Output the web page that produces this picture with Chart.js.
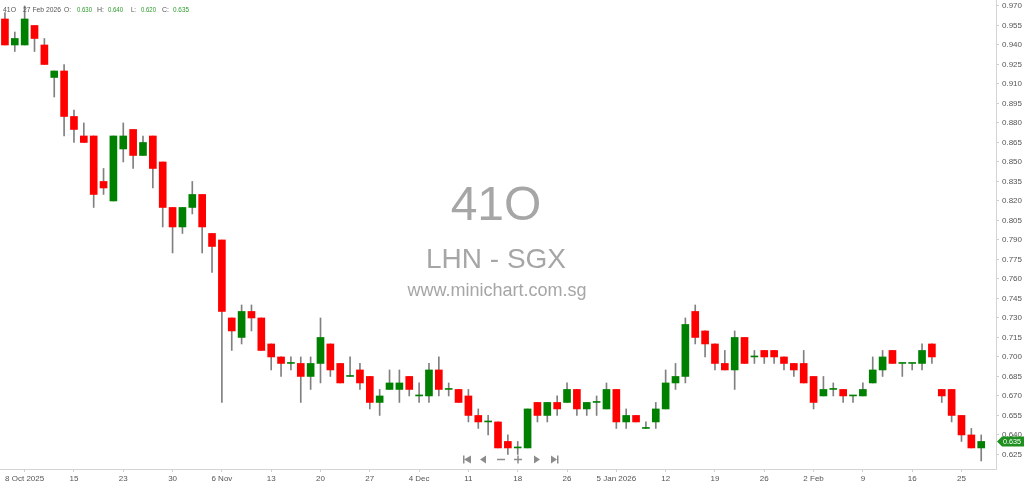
<!DOCTYPE html>
<html>
<head>
<meta charset="utf-8">
<script src="https://cdn.jsdelivr.net/npm/chart.js@4.4.1/dist/chart.umd.min.js"></script>
<style>
  html, body { margin: 0; padding: 0; background: #fff; }
</style>
</head>
<body>
<canvas id="grafico" width="1024" height="484"></canvas>
<script>
// trading days (SGX) and daily OHLC for 41O
const dates = [
    '2025-10-06','2025-10-07','2025-10-08','2025-10-09','2025-10-10','2025-10-13','2025-10-14','2025-10-15','2025-10-16','2025-10-17',
    '2025-10-21','2025-10-22','2025-10-23','2025-10-24','2025-10-27','2025-10-28','2025-10-29','2025-10-30','2025-10-31','2025-11-03',
    '2025-11-04','2025-11-05','2025-11-06','2025-11-07','2025-11-10','2025-11-11','2025-11-12','2025-11-13','2025-11-14','2025-11-17',
    '2025-11-18','2025-11-19','2025-11-20','2025-11-21','2025-11-24','2025-11-25','2025-11-26','2025-11-27','2025-11-28','2025-12-01',
    '2025-12-02','2025-12-03','2025-12-04','2025-12-05','2025-12-08','2025-12-09','2025-12-10','2025-12-11','2025-12-12','2025-12-15',
    '2025-12-16','2025-12-17','2025-12-18','2025-12-19','2025-12-22','2025-12-23','2025-12-24','2025-12-26','2025-12-29','2025-12-30',
    '2025-12-31','2026-01-02','2026-01-05','2026-01-06','2026-01-07','2026-01-08','2026-01-09','2026-01-12','2026-01-13','2026-01-14',
    '2026-01-15','2026-01-16','2026-01-19','2026-01-20','2026-01-21','2026-01-22','2026-01-23','2026-01-26','2026-01-27','2026-01-28',
    '2026-01-29','2026-01-30','2026-02-02','2026-02-03','2026-02-04','2026-02-05','2026-02-06','2026-02-09','2026-02-10','2026-02-11',
    '2026-02-12','2026-02-13','2026-02-16','2026-02-19','2026-02-20','2026-02-23','2026-02-24','2026-02-25','2026-02-26','2026-02-27'
];
const opens = [
    0.960, 0.940, 0.940, 0.955, 0.940, 0.915, 0.920, 0.885, 0.870, 0.870,
    0.835, 0.820, 0.860, 0.875, 0.855, 0.870, 0.850, 0.815, 0.800, 0.815,
    0.825, 0.795, 0.790, 0.730, 0.715, 0.735, 0.730, 0.710, 0.700, 0.695,
    0.695, 0.685, 0.695, 0.710, 0.695, 0.685, 0.690, 0.685, 0.665, 0.675,
    0.675, 0.685, 0.670, 0.670, 0.690, 0.675, 0.675, 0.670, 0.655, 0.650,
    0.650, 0.635, 0.630, 0.630, 0.665, 0.655, 0.665, 0.665, 0.675, 0.660,
    0.665, 0.660, 0.675, 0.650, 0.655, 0.645, 0.650, 0.660, 0.680, 0.685,
    0.735, 0.720, 0.710, 0.695, 0.690, 0.715, 0.700, 0.705, 0.705, 0.700,
    0.695, 0.695, 0.685, 0.670, 0.675, 0.675, 0.670, 0.670, 0.680, 0.690,
    0.705, 0.695, 0.695, 0.695, 0.710, 0.675, 0.675, 0.655, 0.640, 0.630
];
const highs = [
    0.965, 0.950, 0.970, 0.955, 0.945, 0.920, 0.925, 0.890, 0.880, 0.870,
    0.845, 0.870, 0.880, 0.875, 0.870, 0.870, 0.850, 0.815, 0.815, 0.835,
    0.825, 0.795, 0.790, 0.730, 0.740, 0.740, 0.730, 0.710, 0.700, 0.700,
    0.700, 0.700, 0.730, 0.710, 0.695, 0.700, 0.695, 0.685, 0.675, 0.690,
    0.690, 0.685, 0.680, 0.695, 0.700, 0.680, 0.675, 0.675, 0.660, 0.655,
    0.650, 0.640, 0.635, 0.660, 0.665, 0.665, 0.670, 0.680, 0.675, 0.665,
    0.670, 0.680, 0.675, 0.660, 0.655, 0.650, 0.665, 0.690, 0.695, 0.730,
    0.740, 0.720, 0.710, 0.705, 0.720, 0.715, 0.705, 0.705, 0.705, 0.700,
    0.695, 0.705, 0.685, 0.685, 0.680, 0.675, 0.670, 0.680, 0.700, 0.705,
    0.705, 0.695, 0.695, 0.710, 0.710, 0.675, 0.675, 0.655, 0.645, 0.640
];
const lows = [
    0.940, 0.935, 0.940, 0.935, 0.925, 0.900, 0.870, 0.865, 0.865, 0.815,
    0.825, 0.820, 0.850, 0.845, 0.855, 0.830, 0.800, 0.780, 0.795, 0.810,
    0.780, 0.765, 0.665, 0.705, 0.710, 0.720, 0.705, 0.690, 0.685, 0.690,
    0.665, 0.675, 0.680, 0.685, 0.680, 0.685, 0.675, 0.660, 0.655, 0.675,
    0.665, 0.670, 0.665, 0.665, 0.670, 0.670, 0.665, 0.650, 0.645, 0.640,
    0.630, 0.625, 0.625, 0.630, 0.650, 0.650, 0.655, 0.665, 0.655, 0.655,
    0.655, 0.660, 0.645, 0.645, 0.650, 0.645, 0.645, 0.660, 0.675, 0.680,
    0.710, 0.700, 0.690, 0.690, 0.675, 0.695, 0.695, 0.695, 0.695, 0.690,
    0.685, 0.680, 0.660, 0.670, 0.670, 0.665, 0.665, 0.670, 0.680, 0.685,
    0.695, 0.685, 0.690, 0.690, 0.695, 0.665, 0.650, 0.635, 0.630, 0.620
];
const closes = [
    0.940, 0.945, 0.960, 0.945, 0.925, 0.920, 0.885, 0.875, 0.865, 0.825,
    0.830, 0.870, 0.870, 0.855, 0.865, 0.845, 0.815, 0.800, 0.815, 0.825,
    0.800, 0.785, 0.735, 0.720, 0.735, 0.730, 0.705, 0.700, 0.695, 0.695,
    0.685, 0.695, 0.715, 0.690, 0.680, 0.685, 0.680, 0.665, 0.670, 0.680,
    0.680, 0.675, 0.670, 0.690, 0.675, 0.675, 0.665, 0.655, 0.650, 0.650,
    0.630, 0.630, 0.630, 0.660, 0.655, 0.665, 0.660, 0.675, 0.660, 0.665,
    0.665, 0.675, 0.650, 0.655, 0.650, 0.645, 0.660, 0.680, 0.685, 0.725,
    0.715, 0.710, 0.695, 0.690, 0.715, 0.695, 0.700, 0.700, 0.700, 0.695,
    0.690, 0.680, 0.665, 0.675, 0.675, 0.670, 0.670, 0.675, 0.690, 0.700,
    0.695, 0.695, 0.695, 0.705, 0.700, 0.670, 0.655, 0.640, 0.630, 0.635
];

// x axis labels, only on these days
const tickDates = ['2025-10-08','2025-10-15','2025-10-23','2025-10-30','2025-11-06','2025-11-13','2025-11-20','2025-11-27','2025-12-04','2025-12-11',
    '2025-12-18','2025-12-26','2026-01-05','2026-01-12','2026-01-19','2026-01-26','2026-02-02','2026-02-09','2026-02-16','2026-02-25'];
const tickTexts = ['8 Oct 2025','15','23','30','6 Nov','13','20','27','4 Dec','11',
    '18','26','5 Jan 2026','12','19','26','2 Feb','9','16','25'];
const yTicks = [0.625, 0.640, 0.655, 0.670, 0.685, 0.700, 0.715, 0.730, 0.745, 0.760, 0.775, 0.790,
    0.805, 0.820, 0.835, 0.850, 0.865, 0.880, 0.895, 0.910, 0.925, 0.940, 0.955, 0.970];

const VERDE = '#008000';
const VERMELHO = '#ff0000';
const FONTE = "'Liberation Sans', Arial, sans-serif";

// marca d'agua no meio
const marcaDagua = {
    id: 'marcaDagua',
    beforeDatasetsDraw(chart) {
        const ctx = chart.ctx;
        ctx.save();
        ctx.fillStyle = '#a6a6a6';
        ctx.textAlign = 'center';
        ctx.textBaseline = 'alphabetic';
        ctx.font = '48px ' + FONTE;
        ctx.fillText('41O', 496, 220);
        ctx.font = '28px ' + FONTE;
        ctx.fillText('LHN - SGX', 496, 268);
        ctx.font = '18px ' + FONTE;
        ctx.fillText('www.minichart.com.sg', 497, 296);
        ctx.restore();
    }
};

// cabecalho, etiqueta do preco e botoes de navegacao
const extras = {
    id: 'extras',
    afterDraw(chart) {
        const ctx = chart.ctx;
        const n = closes.length - 1;
        ctx.save();
        ctx.font = '8px ' + FONTE;
        ctx.textBaseline = 'middle';
        // [texto, x, largura, cor]
        const partes = [
            ['41O', 3, 13, '#555'], ['27 Feb 2026', 23, 38, '#555'],
            ['O:', 64, 7, '#555'], [opens[n].toFixed(3), 77, 15, '#2a9a2a'],
            ['H:', 97, 7, '#555'], [highs[n].toFixed(3), 108, 15, '#2a9a2a'],
            ['L:', 131, 5, '#555'], [lows[n].toFixed(3), 141, 15, '#2a9a2a'],
            ['C:', 162, 7, '#555'], [closes[n].toFixed(3), 173, 16, '#2a9a2a']
        ];
        partes.forEach(p => { ctx.fillStyle = p[3]; ctx.fillText(p[0], p[1], 10, p[2]); });

        // etiqueta verde do ultimo preco
        const yp = chart.scales.y.getPixelForValue(closes[n]);
        const x0 = chart.chartArea.right + 1;
        ctx.fillStyle = '#1f8f1f';
        ctx.beginPath();
        ctx.moveTo(x0, yp);
        ctx.lineTo(x0 + 5, yp - 5);
        ctx.lineTo(1024, yp - 5);
        ctx.lineTo(1024, yp + 5);
        ctx.lineTo(x0 + 5, yp + 5);
        ctx.closePath();
        ctx.fill();
        ctx.fillStyle = '#fff';
        ctx.fillText(closes[n].toFixed(3), x0 + 6, yp + 0.5, 18);

        // botoes
        const yb = 459.5;
        ctx.fillStyle = '#8c8c8c';
        const tri = (a, b, c) => { ctx.beginPath(); ctx.moveTo(a[0], a[1]); ctx.lineTo(b[0], b[1]); ctx.lineTo(c[0], c[1]); ctx.closePath(); ctx.fill(); };
        ctx.fillRect(463, yb - 4, 1.5, 8);
        tri([464, yb], [471, yb - 4], [471, yb + 4]);
        tri([480, yb], [486, yb - 4], [486, yb + 4]);
        ctx.fillRect(497, yb - 0.75, 8, 1.5);
        ctx.fillRect(514, yb - 0.75, 8, 1.5);
        ctx.fillRect(517.25, yb - 4, 1.5, 8);
        tri([534, yb - 4], [534, yb + 4], [540, yb]);
        tri([551, yb - 4], [551, yb + 4], [557, yb]);
        ctx.fillRect(557, yb - 4, 1.5, 8);
        ctx.restore();
    }
};

document.addEventListener('DOMContentLoaded', function() {
    const ctx = document.getElementById('grafico').getContext('2d');
    const labels = dates.concat(['']); // espaco vazio a direita

    new Chart(ctx, {
        type: 'bar',
        data: {
            labels: labels,
            datasets: [
                {
                    label: 'Corpo',
                    data: dates.map((d, i) => [opens[i], closes[i]]),
                    backgroundColor: dates.map((d, i) => closes[i] >= opens[i] ? VERDE : VERMELHO),
                    barThickness: 7,
                    minBarLength: 1,
                    grouped: false
                },
                {
                    label: 'Pavio',
                    data: dates.map((d, i) => [lows[i], highs[i]]),
                    backgroundColor: '#808080',
                    barThickness: 1,
                    grouped: false
                }
            ]
        },
        options: {
            responsive: false,
            animation: false,
            layout: { padding: 0 },
            plugins: { legend: { display: false }, tooltip: { enabled: false } },
            scales: {
                x: {
                    offset: true,
                    grid: { offset: false, drawOnChartArea: false, tickLength: 3, color: '#cfcfcf' },
                    border: { color: '#d4d4d4' },
                    afterBuildTicks: s => { s.ticks = s.ticks.filter(t => tickDates.includes(labels[t.value])); },
                    afterFit: s => { s.height = 15; s.paddingLeft = 0; s.paddingRight = 0; },
                    ticks: {
                        autoSkip: false,
                        maxRotation: 0,
                        padding: 2,
                        color: '#555',
                        font: { family: FONTE, size: 8 },
                        callback: function(v) { return tickTexts[tickDates.indexOf(labels[v])]; }
                    }
                },
                y: {
                    position: 'right',
                    min: 0.6138,
                    max: 0.9746,
                    grid: { drawOnChartArea: false, tickLength: 3, color: '#cfcfcf' },
                    border: { color: '#d4d4d4' },
                    afterBuildTicks: s => { s.ticks = yTicks.map(v => ({ value: v })); },
                    afterFit: s => { s.width = 28; s.paddingTop = 0; s.paddingBottom = 0; },
                    ticks: {
                        padding: 3,
                        color: '#555',
                        font: { family: FONTE, size: 8 },
                        callback: v => v.toFixed(3)
                    }
                }
            }
        },
        plugins: [marcaDagua, extras]
    });
});
</script>
</body>
</html>
